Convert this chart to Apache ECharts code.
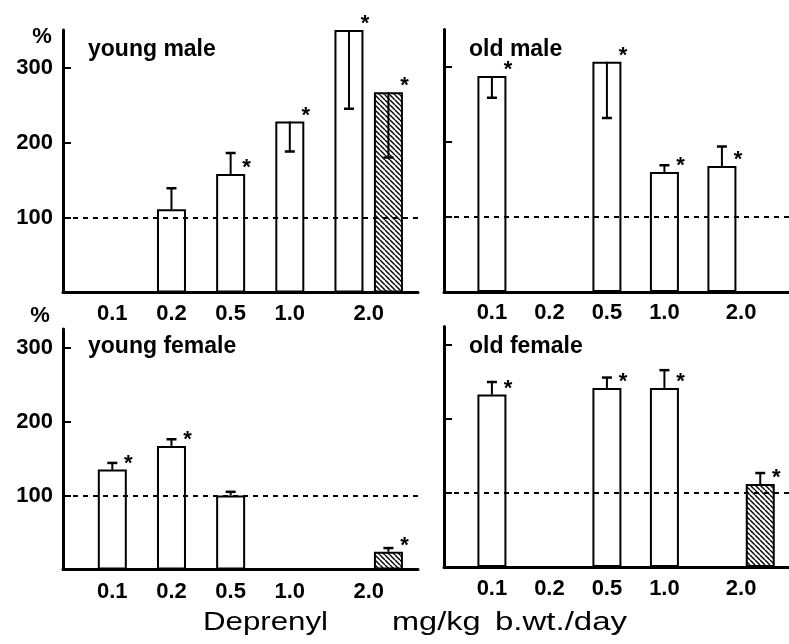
<!DOCTYPE html>
<html>
<head>
<meta charset="utf-8">
<script src="https://cdn.jsdelivr.net/npm/echarts@6/dist/echarts.min.js"></script>
<style>
    html, body { margin: 0; background: #fff; }
    #chart { width: 789px; height: 644px; }
</style>
</head>
<body>
<div id="chart"></div>
<script>
    var doses = ['0.1', '0.2', '0.5', '1.0', '2.0'];
    var yTicks = [100, 200, 300];

    // young male
    var youngMale = [null, 111, 158, 228, 350];
    var youngMaleErr = [null, 139, 186, 188, 245];
    var youngMaleStar = [0, 0, 1, 1, 1];
    var youngMaleHatched = [null, null, null, null, 267];
    var youngMaleHatchedErr = [null, null, null, null, 180];
    var youngMaleHatchedStar = [0, 0, 0, 0, 1];

    // old male
    var oldMale = [288, null, 307, 160, 168];
    var oldMaleErr = [259, null, 232, 169, 194];
    var oldMaleStar = [1, 0, 1, 1, 1];
    var oldMaleHatched = [null, null, null, null, null];
    var oldMaleHatchedErr = [null, null, null, null, null];
    var oldMaleHatchedStar = [0, 0, 0, 0, 0];

    // young female
    var youngFemale = [135, 167, 100, null, null];
    var youngFemaleErr = [144, 176, 105, null, null];
    var youngFemaleStar = [1, 1, 0, 0, 0];
    var youngFemaleHatched = [null, null, null, null, 24];
    var youngFemaleHatchedErr = [null, null, null, null, 29];
    var youngFemaleHatchedStar = [0, 0, 0, 0, 1];

    // old female
    var oldFemale = [233, null, 242, 242, null];
    var oldFemaleErr = [250, null, 256, 266, null];
    var oldFemaleStar = [1, 0, 1, 1, 0];
    var oldFemaleHatched = [null, null, null, null, 112];
    var oldFemaleHatchedErr = [null, null, null, null, 127];
    var oldFemaleHatchedStar = [0, 0, 0, 0, 1];

    // the x axis is cut into narrow slots so the uneven spacing of the doses can be kept
    var N_SLOTS = 18;
    var BAR_SLOT = [2, 5, 8, 11, 14];
    var LABEL_SLOT = [2, 5, 8, 11, 15];
    var HATCH_SHIFT = 2;
    var FONT = '"Liberation Sans", Arial, sans-serif';

    var slots = [];
    for (var s = 0; s < N_SLOTS; s++) slots.push('');
    LABEL_SLOT.forEach(function (slot, i) { slots[slot] = doses[i]; });

    // diagonal hatch
    var hatch = document.createElement('canvas');
    hatch.width = 5;
    hatch.height = 5;
    var hc = hatch.getContext('2d');
    hc.fillStyle = '#fff';
    hc.fillRect(0, 0, 5, 5);
    hc.strokeStyle = '#000';
    hc.lineWidth = 1.4;
    [-5, 0, 5].forEach(function (dx) {
        hc.beginPath();
        hc.moveTo(dx, 0);
        hc.lineTo(dx + 5, 5);
        hc.stroke();
    });

    var panels = [
        { title: 'young male', white: youngMale, err: youngMaleErr, star: youngMaleStar,
          hatched: youngMaleHatched, hatchedErr: youngMaleHatchedErr, hatchedStar: youngMaleHatchedStar,
          max: 350, grid: { left: 63, top: 30, width: 355, height: 262.5 }, labels: true },
        { title: 'old male', white: oldMale, err: oldMaleErr, star: oldMaleStar,
          hatched: oldMaleHatched, hatchedErr: oldMaleHatchedErr, hatchedStar: oldMaleHatchedStar,
          max: 350, grid: { left: 444, top: 29.5, width: 355, height: 262.5 }, labels: false },
        { title: 'young female', white: youngFemale, err: youngFemaleErr, star: youngFemaleStar,
          hatched: youngFemaleHatched, hatchedErr: youngFemaleHatchedErr, hatchedStar: youngFemaleHatchedStar,
          max: 325, grid: { left: 63, top: 329, width: 355, height: 240.5 }, labels: true },
        { title: 'old female', white: oldFemale, err: oldFemaleErr, star: oldFemaleStar,
          hatched: oldFemaleHatched, hatchedErr: oldFemaleHatchedErr, hatchedStar: oldFemaleHatchedStar,
          max: 325, grid: { left: 444, top: 326.5, width: 355, height: 240.5 }, labels: false }
    ];

    function renderErr(params, api) {
        var top = api.coord([api.value(0), api.value(1)]);
        var end = api.coord([api.value(0), api.value(2)]);
        var children = [
            { type: 'line', shape: { x1: top[0], y1: top[1], x2: end[0], y2: end[1] },
              style: { stroke: '#000', lineWidth: 2 } },
            { type: 'line', shape: { x1: end[0] - 5, y1: end[1], x2: end[0] + 5, y2: end[1] },
              style: { stroke: '#000', lineWidth: 2.5 } }
        ];
        if (api.value(3)) {
            children.push({ type: 'text', x: top[0] + 16, y: top[1] - 6,
                style: { text: '*', fill: '#000', font: 'bold 22px ' + FONT, align: 'center', verticalAlign: 'middle' } });
        }
        return { type: 'group', children: children };
    }

    var option = { animation: false, backgroundColor: '#fff', grid: [], xAxis: [], yAxis: [], series: [], graphic: [] };

    panels.forEach(function (p, k) {
        option.grid.push(p.grid);
        option.xAxis.push({
            type: 'category', gridIndex: k, data: slots,
            axisLine: { lineStyle: { color: '#000', width: 3 } },
            axisTick: { show: false },
            axisLabel: { interval: 0, color: '#000', fontFamily: FONT, fontWeight: 'bold', fontSize: 22, margin: k < 2 ? 10 : 11 }
        });
        option.yAxis.push({
            type: 'value', gridIndex: k, min: 0, max: p.max, interval: 100,
            axisLine: { show: true, lineStyle: { color: '#000', width: 3 } },
            axisTick: { show: true, inside: true, length: 8, customValues: yTicks, lineStyle: { color: '#000', width: 2 } },
            axisLabel: { show: p.labels, customValues: yTicks, color: '#000', fontFamily: FONT, fontWeight: 'bold', fontSize: 22, margin: 10 },
            splitLine: { show: false }
        });

        var whiteData = [], hatchedData = [], errData = [];
        for (var s = 0; s < N_SLOTS; s++) { whiteData.push(null); hatchedData.push(null); }
        doses.forEach(function (d, i) {
            if (p.white[i] != null) {
                whiteData[BAR_SLOT[i]] = p.white[i];
                errData.push([BAR_SLOT[i], p.white[i], p.err[i], p.star[i]]);
            }
            if (p.hatched[i] != null) {
                hatchedData[BAR_SLOT[i] + HATCH_SHIFT] = p.hatched[i];
                errData.push([BAR_SLOT[i] + HATCH_SHIFT, p.hatched[i], p.hatchedErr[i], p.hatchedStar[i]]);
            }
        });

        option.series.push({
            type: 'bar', xAxisIndex: k, yAxisIndex: k, data: whiteData,
            barWidth: 29, barGap: '-100%',
            itemStyle: { color: '#fff', borderColor: '#000', borderWidth: 2 },
            markLine: {
                silent: true, symbol: 'none', label: { show: false },
                lineStyle: { color: '#000', type: [5, 5], width: 2 },
                data: [{ yAxis: 100 }]
            }
        });
        option.series.push({
            type: 'bar', xAxisIndex: k, yAxisIndex: k, data: hatchedData,
            barWidth: 29, barGap: '-100%',
            itemStyle: { color: { image: hatch, repeat: 'repeat' }, borderColor: '#000', borderWidth: 2 }
        });
        option.series.push({
            type: 'custom', xAxisIndex: k, yAxisIndex: k, data: errData, z: 4,
            encode: { x: 0, y: [1, 2] }, renderItem: renderErr
        });

        option.graphic.push({
            type: 'text', left: p.grid.left + 25, top: (k < 2 ? 38.5 : 335),
            style: { text: p.title, fill: '#000', font: 'bold 23px ' + FONT }
        });
    });

    option.graphic.push(
        { type: 'text', x: 42, y: 37, style: { text: '%', fill: '#000', font: 'bold 22px ' + FONT, align: 'center', verticalAlign: 'middle' } },
        { type: 'text', x: 40, y: 316, style: { text: '%', fill: '#000', font: 'bold 22px ' + FONT, align: 'center', verticalAlign: 'middle' } },
        { type: 'text', x: 203, y: 623, scaleX: 1.25, style: { text: 'Deprenyl', fill: '#000', font: '25px ' + FONT, verticalAlign: 'middle' } },
        { type: 'text', x: 392, y: 623, scaleX: 1.3, style: { text: 'mg/kg', fill: '#000', font: '25px ' + FONT, verticalAlign: 'middle' } },
        { type: 'text', x: 495, y: 623, scaleX: 1.32, style: { text: 'b.wt./day', fill: '#000', font: '25px ' + FONT, verticalAlign: 'middle' } }
    );

    var chart = echarts.init(document.getElementById('chart'));
    chart.setOption(option);
</script>
</body>
</html>
